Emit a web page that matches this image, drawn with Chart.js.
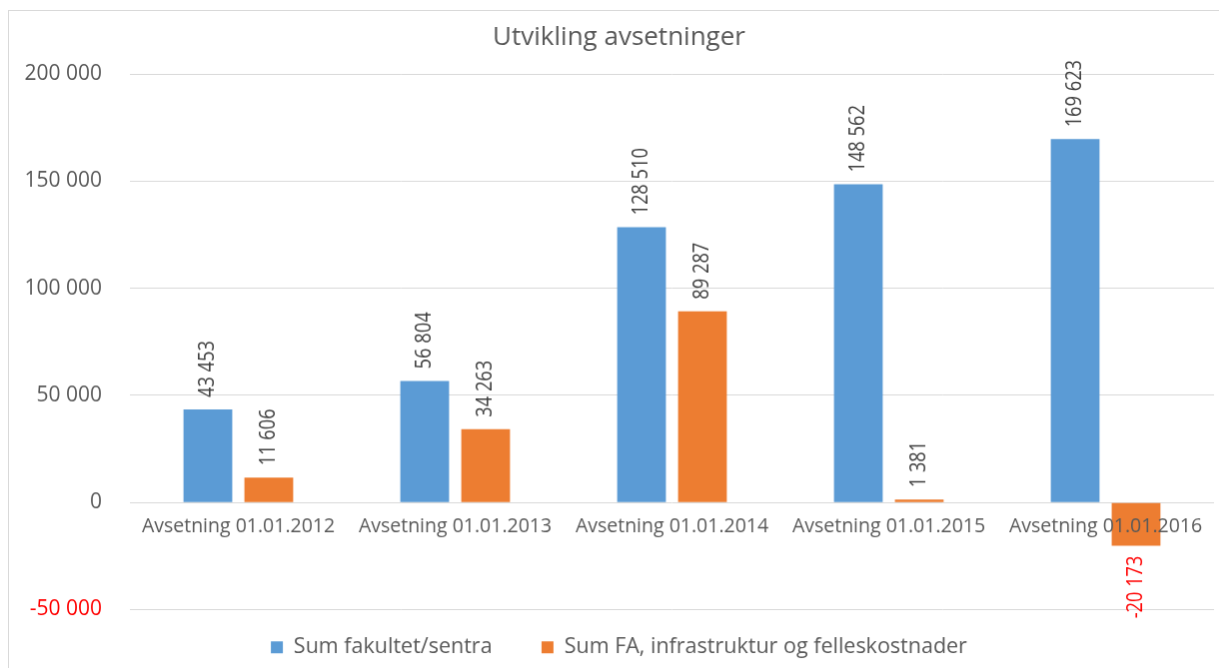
<!DOCTYPE html>
<html>
<head>
<meta charset="utf-8">
<script src="https://cdn.jsdelivr.net/npm/chart.js@4/dist/chart.umd.min.js"></script>
<style>
  html, body { margin: 0; padding: 0; background: #fff; overflow: hidden; }
  #chart { position: absolute; left: 8px; top: 10px; border-left: 1px solid #d9d9d9; border-top: 1px solid #d9d9d9; }
</style>
</head>
<body>
<canvas id="chart" width="1226" height="680"></canvas>
<script>
const categories = ['Avsetning 01.01.2012', 'Avsetning 01.01.2013', 'Avsetning 01.01.2014', 'Avsetning 01.01.2015', 'Avsetning 01.01.2016'];
const fakultetValues = [43453, 56804, 128510, 148562, 169623];
const fellesValues = [11606, 34263, 89287, 1381, -20173];
const yTicks = [-50000, 0, 50000, 100000, 150000, 200000];

const TEXT = '#595959';

// 12345 -> "12 345"
function fmt(v) {
  return String(v).replace(/\B(?=(\d{3})+(?!\d))/g, ' ');
}

// rotated value labels over/under each bar
const barLabels = {
  id: 'barLabels',
  afterDatasetsDraw(chart) {
    const ctx = chart.ctx;
    ctx.save();
    ctx.font = '21px "Open Sans", sans-serif';
    ctx.textBaseline = 'middle';
    chart.data.datasets.forEach((ds, i) => {
      chart.getDatasetMeta(i).data.forEach((bar, j) => {
        const v = ds.data[j];
        const neg = v < 0;
        ctx.save();
        ctx.translate(bar.x, neg ? bar.y + 10 : bar.y - 12);
        ctx.rotate(-Math.PI / 2);
        ctx.scale(0.87, 1); // narrow like the original
        ctx.fillStyle = neg ? '#ff0000' : '#404040';
        ctx.textAlign = neg ? 'right' : 'left';
        ctx.fillText(fmt(v), 0, 0);
        ctx.restore();
      });
    });
    ctx.restore();
  }
};

const ctx = document.getElementById('chart').getContext('2d');
const chart = new Chart(ctx, {
  type: 'bar',
  data: {
    labels: categories,
    datasets: [{
      label: 'Sum fakultet/sentra',
      data: fakultetValues,
      backgroundColor: '#5b9bd5'
    }, {
      label: 'Sum FA, infrastruktur og felleskostnader',
      data: fellesValues,
      backgroundColor: '#ed7d31'
    }]
  },
  options: {
    responsive: false,
    animation: false,
    categoryPercentage: 0.562,
    barPercentage: 0.8,
    layout: { padding: { left: 15, right: 20, top: 0, bottom: 22 } },
    plugins: {
      tooltip: { enabled: false },
      title: {
        display: true,
        text: 'Utvikling avsetninger',
        color: TEXT,
        font: { family: 'Open Sans', size: 26, weight: 'normal' },
        padding: { top: 11, bottom: 21 }
      },
      legend: {
        position: 'bottom',
        labels: {
          color: TEXT,
          font: { family: 'Open Sans', size: 21.5 },
          boxWidth: 12,
          boxHeight: 12,
          padding: 27,
          generateLabels(chart) {
            const items = Chart.defaults.plugins.legend.labels.generateLabels(chart);
            items[0].text += '    ';
            return items;
          }
        }
      }
    },
    scales: {
      x: {
        position: { y: 0 },
        grid: { display: false, drawTicks: false },
        border: { display: false },
        afterFit(axis) {
          axis.paddingLeft = 0;
          axis.paddingRight = 0;
        },
        ticks: {
          z: 1, // category labels over the negative bar, as in the original
          color: TEXT,
          font: { family: 'Open Sans', size: 19.5 },
          padding: 12,
          maxRotation: 0,
          autoSkip: false
        }
      },
      y: {
        min: -50000,
        max: 200000,
        afterBuildTicks(axis) {
          axis.ticks = yTicks.map(v => ({ value: v }));
        },
        afterFit(axis) {
          axis.width = 106;
        },
        grid: { color: '#d9d9d9', drawTicks: false },
        border: { display: false },
        ticks: {
          padding: 28,
          font: { family: 'Open Sans', size: 21 },
          color: c => (c.tick && c.tick.value < 0 ? '#ff0000' : TEXT),
          callback: v => fmt(v)
        }
      }
    }
  },
  plugins: [barLabels]
});
</script>
</body>
</html>
